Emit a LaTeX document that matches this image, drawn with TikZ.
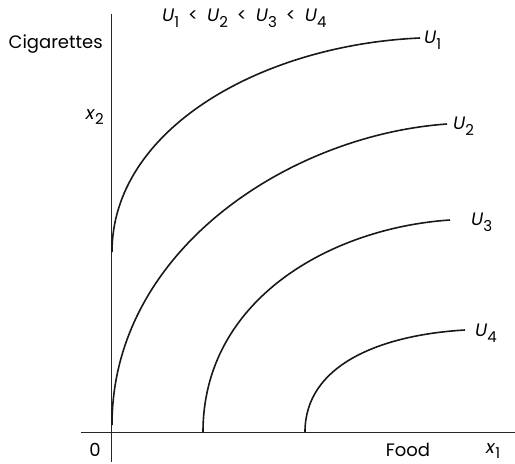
\documentclass[tikz,border=0pt]{standalone}
\usepackage{fontspec}
\setmainfont{Poppins}
\newcommand{\sbs}[1]{\raisebox{-0.32em}{\fontsize{15}{16}\selectfont #1}}
\newcommand{\lt}{\hspace{0.5em}<\hspace{0.5em}}
\begin{document}
\begin{tikzpicture}[x=1pt,y=-1pt,
  axis/.style={line width=0.8pt,black!85},
  curve/.style={line width=1.6pt,black!90},
  lbl/.style={font=\fontsize{18}{20}\selectfont,inner sep=0pt}]
\useasboundingbox (0,0) rectangle (515,464);
% axes
\coordinate (ytop) at (111,14);
\coordinate (ybot) at (111,462);
\coordinate (xl) at (81,432);
\coordinate (xr) at (515,432);
\draw[axis] (ytop) -- (ybot);
\draw[axis] (xl) -- (xr);
% curves
\coordinate (a1) at (112,252); \coordinate (b1) at (420,38);
\coordinate (a2) at (112,425); \coordinate (b2) at (447,124);
\coordinate (a3) at (203,432); \coordinate (b3) at (450,220);
\coordinate (a4) at (305,432); \coordinate (b4) at (465,330);
\draw[curve] (a1) .. controls (112,130) and (260,45) .. (b1);
\draw[curve] (a2) .. controls (112,250) and (290,135) .. (b2);
\draw[curve] (a3) .. controls (203,300) and (330,228) .. (b3);
\draw[curve] (a4) .. controls (305,365) and (380,335) .. (b4);
% labels
\node[lbl,anchor=west] (u1) at (424,40) {\textit{U}\sbs{1}};
\node[lbl,anchor=west] (u2) at (453,126) {\textit{U}\sbs{2}};
\node[lbl,anchor=west] (u3) at (471,222) {\textit{U}\sbs{3}};
\node[lbl,anchor=west] (u4) at (475,333) {\textit{U}\sbs{4}};
\node[lbl,anchor=west] (title) at (162,18) {\textit{U}\sbs{1}\lt\textit{U}\sbs{2}\lt\textit{U}\sbs{3}\lt\textit{U}\sbs{4}};
\node[lbl,anchor=east] (cig) at (103,44) {Cigarettes};
\node[lbl,anchor=east] (x2) at (104,117) {\textit{x}\sbs{2}};
\node[lbl] (zero) at (95,450) {0};
\node[lbl] (food) at (408,450) {Food};
\node[lbl,anchor=west] (x1) at (486,451) {\textit{x}\sbs{1}};
\end{tikzpicture}
\end{document}
